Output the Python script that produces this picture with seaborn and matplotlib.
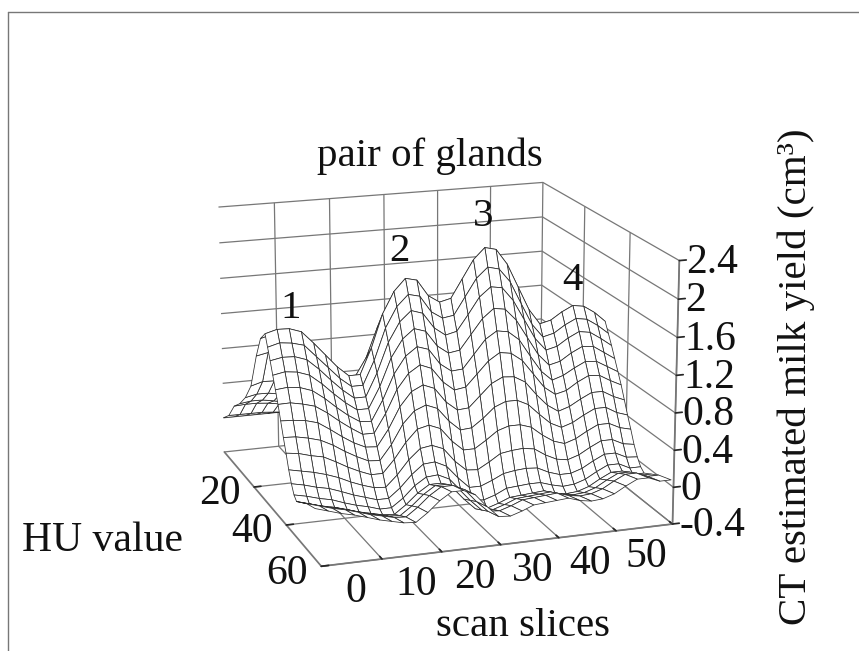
import numpy as np
import matplotlib
matplotlib.use("Agg")
import matplotlib.pyplot as plt
import seaborn as sns
from mpl_toolkits.mplot3d import proj3d
from matplotlib.lines import Line2D

sns.set_theme(style="white")
plt.rcParams['font.family'] = ['Liberation Serif', 'DejaVu Serif']

scan_slices = [-10,-8,-6,-4,-2,0,2,4,6,8,10,12,14,16,18,20,22,24,26,28,30,32,34,36,38,40,42,44,46,48,50]
hu_last = [57,57.5,58,58.5]+[59]*27
hu_rows = [0,4,8,12,16,20,24,27,30,31.5,33,34.5,36,37.5,39,40.5,42,43.5,45,46.5,48,51,54,59]

z00=[0]*31
z01=[.10,.10,.10,.10,.09,.08,.07,.06,.06,.08,.10,.12,.13,.13,.12,.11,.11,.12,.13,.15,.15,.14,.12,.10,.09,.09,.09,.10,.10,.09,.09]
z02=[.28,.29,.29,.28,.26,.23,.20,.18,.18,.23,.30,.34,.37,.37,.34,.32,.32,.34,.38,.42,.42,.40,.35,.29,.26,.25,.26,.28,.28,.27,.25]
z03=[.38,.40,.40,.38,.35,.32,.28,.25,.25,.31,.41,.48,.52,.52,.48,.45,.45,.48,.54,.58,.59,.55,.49,.41,.36,.35,.37,.39,.39,.37,.36]
z04=[.52,.55,.55,.53,.49,.44,.38,.35,.35,.43,.56,.65,.71,.71,.65,.61,.61,.65,.73,.79,.81,.75,.66,.55,.49,.48,.50,.53,.53,.51,.48]
z05=[.72,.76,.76,.73,.68,.60,.53,.48,.48,.59,.77,.89,.97,.97,.89,.83,.83,.89,1.00,1.08,1.10,1.03,.90,.76,.67,.66,.68,.72,.72,.70,.66]
z06=[1.12,1.15,1.14,1.10,.99,.88,.78,.70,.70,.87,1.12,1.31,1.41,1.41,1.31,1.22,1.22,1.31,1.46,1.58,1.61,1.50,1.32,1.11,.97,.96,1.00,1.06,1.06,1.02,.97]
z07=[1.36,1.40,1.39,1.34,1.21,1.08,.95,.86,.86,1.06,1.38,1.60,1.73,1.73,1.60,1.49,1.49,1.60,1.79,1.93,1.97,1.84,1.62,1.36,1.19,1.17,1.22,1.29,1.29,1.25,1.18]
z08=[1.46,1.50,1.50,1.46,1.33,1.19,1.05,.94,.94,1.22,1.58,1.81,1.94,1.91,1.73,1.65,1.68,1.88,2.08,2.20,2.17,2.00,1.74,1.48,1.31,1.34,1.42,1.48,1.46,1.38,1.27]
z09=[1.34,1.38,1.37,1.34,1.21,1.08,.95,.85,.85,1.11,1.45,1.67,1.79,1.76,1.58,1.50,1.52,1.71,1.90,2.01,1.98,1.83,1.58,1.34,1.19,1.22,1.30,1.36,1.34,1.26,1.16]
z10=[1.22,1.25,1.25,1.21,1.10,.97,.85,.75,.75,1.00,1.32,1.53,1.64,1.60,1.43,1.34,1.37,1.54,1.72,1.82,1.80,1.65,1.43,1.21,1.07,1.10,1.18,1.24,1.22,1.14,1.05]
z11=[1.09,1.12,1.11,1.07,.97,.85,.74,.65,.65,.88,1.18,1.37,1.47,1.43,1.26,1.17,1.19,1.35,1.51,1.61,1.59,1.46,1.26,1.06,.93,.96,1.04,1.10,1.09,1.01,.93]
z12=[.96,.98,.97,.93,.84,.73,.63,.55,.54,.76,1.03,1.21,1.30,1.26,1.09,1.00,1.01,1.16,1.31,1.39,1.37,1.27,1.08,.90,.79,.83,.90,.96,.95,.88,.81]
z13=[.83,.84,.82,.79,.71,.61,.52,.44,.44,.64,.89,1.05,1.13,1.08,.92,.82,.84,.97,1.10,1.18,1.16,1.07,.91,.75,.66,.69,.77,.83,.82,.75,.69]
z14=[.68,.68,.67,.64,.56,.47,.39,.33,.32,.50,.73,.88,.94,.89,.73,.63,.64,.76,.88,.94,.93,.86,.71,.58,.50,.54,.61,.67,.67,.60,.55]
z15=[.53,.53,.51,.48,.42,.34,.27,.21,.20,.36,.57,.70,.75,.70,.55,.44,.45,.54,.65,.70,.70,.64,.52,.41,.35,.39,.46,.52,.52,.45,.41]
z16=[.39,.38,.35,.33,.27,.20,.14,.09,.09,.23,.40,.53,.56,.51,.36,.25,.25,.33,.42,.46,.46,.42,.32,.24,.20,.24,.31,.37,.37,.31,.28]
z17=[.24,.22,.20,.17,.13,.07,.02,-.02,-.03,.09,.24,.35,.37,.32,.17,.06,.05,.12,.20,.22,.23,.21,.13,.07,.05,.09,.16,.22,.22,.16,.14]
z18=[.12,.10,.07,.05,.01,-.04,-.08,-.12,-.12,-.02,.11,.21,.22,.16,.02,-.10,-.10,-.05,.01,.03,.04,.03,-.03,-.07,-.07,-.03,.04,.10,.10,.04,.03]
z19=[.03,.01,-.02,-.04,-.08,-.12,-.15,-.19,-.19,-.10,.02,.10,.11,.05,-.09,-.21,-.22,-.18,-.12,-.11,-.10,-.10,-.14,-.17,-.16,-.12,-.05,.01,.01,-.05,-.05]
z20=[-.01,-.04,-.07,-.09,-.12,-.16,-.19,-.22,-.23,-.14,-.03,.05,.05,-.01,-.15,-.27,-.28,-.24,-.19,-.18,-.17,-.16,-.20,-.22,-.21,-.17,-.10,-.04,-.04,-.09,-.09]
z21=[.04,.01,-.02,-.04,-.07,-.11,-.14,-.17,-.18,-.09,.02,.10,.10,.04,-.10,-.22,-.23,-.19,-.14,-.13,-.12,-.11,-.15,-.17,-.16,-.12,-.05,.01,.01,-.04,-.04]
z22=[.09,.06,.03,.01,-.02,-.06,-.09,-.12,-.13,-.04,.07,.15,.15,.09,-.05,-.17,-.18,-.14,-.09,-.08,-.07,-.06,-.10,-.12,-.11,-.07,.00,.06,.06,.01,.01]
z23=[.14,.11,.08,.06,.03,-.01,-.04,-.07,-.08,.01,.12,.20,.20,.14,.00,-.12,-.13,-.09,-.04,-.03,-.02,-.01,-.05,-.07,-.06,-.02,.05,.11,.11,.06,.06]
milk_yield=[z00,z01,z02,z03,z04,z05,z06,z07,z08,z09,z10,z11,z12,z13,z14,z15,z16,z17,z18,z19,z20,z21,z22,z23]

x_ticks=[0,10,20,30,40,50]
hu_ticks=[20,40,60]
z_ticks=[-0.4,0,0.4,0.8,1.2,1.6,2,2.4]
z_labels=['-0.4','0','0.4','0.8','1.2','1.6','2','2.4']

W,H=859,651
fig=plt.figure(figsize=(W/100,H/100),dpi=100,facecolor='white')
L,B,S=155.1,5.1,554.0
ax=fig.add_axes([L/W,B/H,S/W,S/H],projection='3d')
ax.set_xlim(-10,50,view_margin=0)
ax.set_ylim(60,0,view_margin=0)
ax.set_zlim(-0.4,2.4,view_margin=0)
ax.view_init(elev=16.38,azim=-108.97,roll=0)
ax.set_proj_type('persp',focal_length=0.896)
ax.set_box_aspect((1,1.006,0.742))

X=np.array(scan_slices,float)
Xg=np.tile(X,(len(hu_rows),1))
Yg=np.outer(np.array(hu_rows,float),np.array(hu_last,float)/59)
Zg=np.array(milk_yield,float)
ax.plot_surface(Xg,Yg,Zg,rstride=1,cstride=1,color='white',edgecolor='#2a2a2a',linewidth=0.55,shade=False,antialiased=True)

ax.set_xticks(x_ticks); ax.set_yticks(hu_ticks); ax.set_zticks(z_ticks)
ax.set_xticklabels([]); ax.set_yticklabels([]); ax.set_zticklabels([])
for a in (ax.xaxis,ax.yaxis,ax.zaxis):
    a.set_pane_color((1,1,1,0))
    a.pane.set_edgecolor('#777777')
    a._axinfo['grid'].update(color='#777777',linewidth=0.9,linestyle='-')
    a._axinfo['tick']['inward_factor']=0
    a._axinfo['tick']['outward_factor']=0.25
    a._axinfo['tick']['color']='#777777'
    a.line.set_color('#777777')
ax.zaxis.set_ticks_position('upper')
ax.grid(True)

M=ax.get_proj()
def label(t,pt,dx,dy,ha):
    xs,ys,_=proj3d.proj_transform(pt[0],pt[1],pt[2],M)
    ax.annotate(t,xy=(xs,ys),xycoords='data',xytext=(dx,dy),textcoords='offset pixels',
                ha=ha,va='center',fontsize=30,color='#111111',family='Liberation Serif',annotation_clip=False)
for t in x_ticks:
    label(str(t),(t,60,-0.4),-26,-33,'center')
for t in hu_ticks:
    label(str(t),(-10,t,-0.4),-34,-7,'center')
for t,s in zip(z_ticks,z_labels):
    label(s,(50,60,t),7,-2,'left')

txt=dict(family='Liberation Serif',color='#111111',ha='center',va='center')
fig.text(430/W,1-156/H,'pair of glands',fontsize=29.5,**txt)
fig.text(102/W,1-541/H,'HU value',fontsize=30,**txt)
fig.text(523/W,1-626/H,'scan slices',fontsize=29.5,**txt)
fig.text(796/W,1-377/H,'CT estimated milk yield (cm³)',fontsize=29.5,rotation=90,**txt)
for s,u,v in [('1',291,308),('2',399,251),('3',483,216),('4',572,280)]:
    fig.text(u/W,1-v/H,s,fontsize=29.5,**txt)
fig.add_artist(Line2D([8/W,8/W],[0,1-12/H],color='#777777',lw=1))
fig.add_artist(Line2D([8/W,1],[1-12/H,1-12/H],color='#777777',lw=1))
fig.savefig('out.png',dpi=100)
